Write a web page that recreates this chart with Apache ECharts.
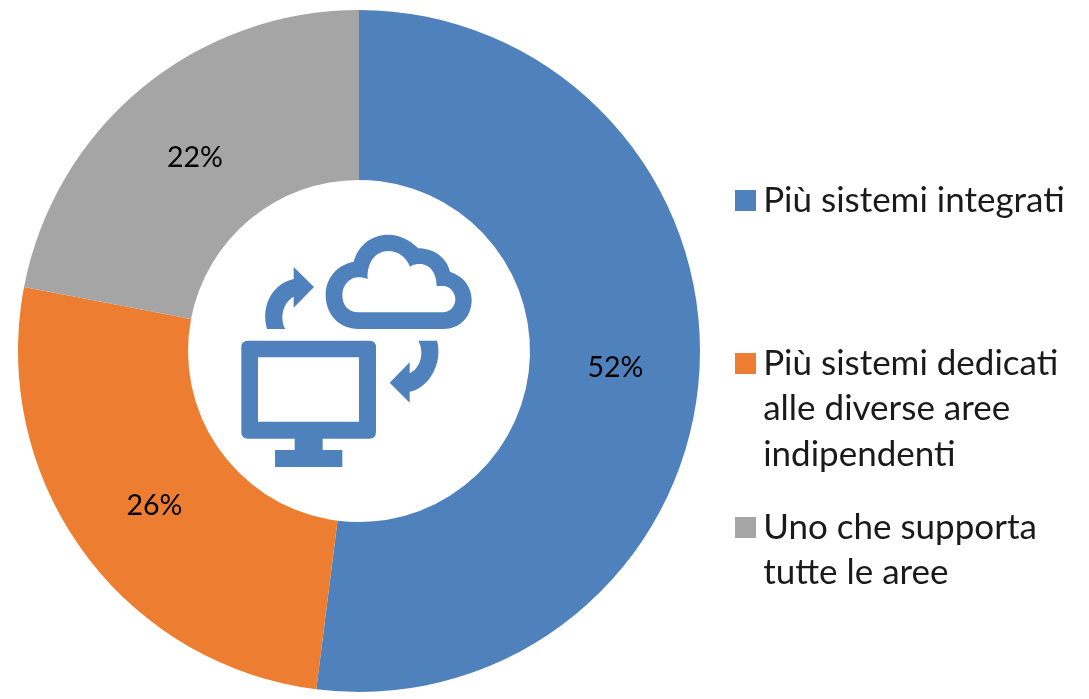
<!DOCTYPE html>
<html><head><meta charset="utf-8">
<style>html,body{margin:0;padding:0;background:#fff}#c{width:1089px;height:699px}</style>
<script src="https://cdn.jsdelivr.net/npm/echarts@6/dist/echarts.min.js"></script>
</head><body><div id="c"></div>
<script>
const categories = ["Più sistemi integrati", "Più sistemi dedicati\nalle diverse aree\nindipendenti", "Uno che supporta\ntutte le aree"];
const values = [52, 26, 22];
const colors = ["#4F81BD", "#ED7D31", "#A5A5A5"];
const legendIconCentres = [200.5, 363.5, 527.5];
const labelNudge = [[-2,1],[5,3],[1,6]];
const LH = 45.4;
const font = "Lato, Carlito, sans-serif";
const iconBlue = "#4F81BD";
const cloudPath = "M415 327L670 327C720 327 755 290 755 240C755 200 730 168 690 155C680 112 640 85 595 85C570 60 540 44 505 44C455 44 415 75 401 125C350 135 317 175 317 225C317 285 360 327 415 327Z" +
  "M415 277C385 277 367 255 367 225C367 195 390 172 415 172C425 172 435 174 443 177C440 130 465 93 505 93C535 93 560 113 570 140C580 133 590 132 600 132C630 132 650 160 650 198L670 198C690 198 706 218 706 238C706 260 690 277 668 277Z";
const monitorPath = "M84 362L448 362Q468 362 468 382L468 636Q468 656 448 656L308 656L308 690L367 690L367 741L165 741L165 690L224 690L224 656L84 656Q64 656 64 636L64 382Q64 362 84 362Z" +
  "M114 412L114 605L417 605L417 412Z";
const arrowA = "M141 327L196 327C180 300 185 250 221 230L221 263L282 201L221 141L221 177C165 188 120 250 141 327Z";
const arrowB = "M595 362L651 362C670 430 625 505 569 515L569 548L509 488L569 427L569 460C600 445 615 400 595 362Z";
const iconPaths = [cloudPath, monitorPath, arrowA, arrowB];
iconPaths.forEach((d,i)=>echarts.graphic.registerShape('iconPart'+i, echarts.graphic.extendPath(d)));

const chart = echarts.init(document.getElementById('c'), null, {renderer:'canvas'});
chart.setOption({
  animation:false,
  backgroundColor:'#fff',
  color:colors,
  legend: categories.map((name,i)=>{
    const lines = name.split('\n');
    const n = lines.length;
    return {
      data:[name], orient:'vertical', left:735, top:legendIconCentres[i]-(2*n-1)*LH/2,
      padding:0, itemWidth:21, itemHeight:21, itemGap:0, icon:'rect', selectedMode:false,
      formatter:()=> '\n'.repeat(n-1) + lines.map(l=>'\u200A'+l).join('\n'),
      textStyle:{fontFamily:font, fontSize:35, color:'#1a1a1a', lineHeight:LH}
    };
  }),
  series:[{
    type:'pie', center:[359,351], radius:[171,341], startAngle:90, clockwise:true,
    avoidLabelOverlap:false, silent:true,
    itemStyle:{borderWidth:0},
    label:{show:true, position:'inside', formatter:'{c}%', fontFamily:font, fontSize:28.5, color:'#000'},
    labelLine:{show:false},
    labelLayout:p=>({dx:labelNudge[p.dataIndex][0], dy:labelNudge[p.dataIndex][1]}),
    data:categories.map((name,i)=>({name, value:values[i]}))
  }],
  graphic: iconPaths.map((d,i)=>({
    type:'iconPart'+i, x:220, y:220, scaleX:1/3, scaleY:1/3, silent:true,
    style:{fill:iconBlue}
  }))
});
</script></body></html>
